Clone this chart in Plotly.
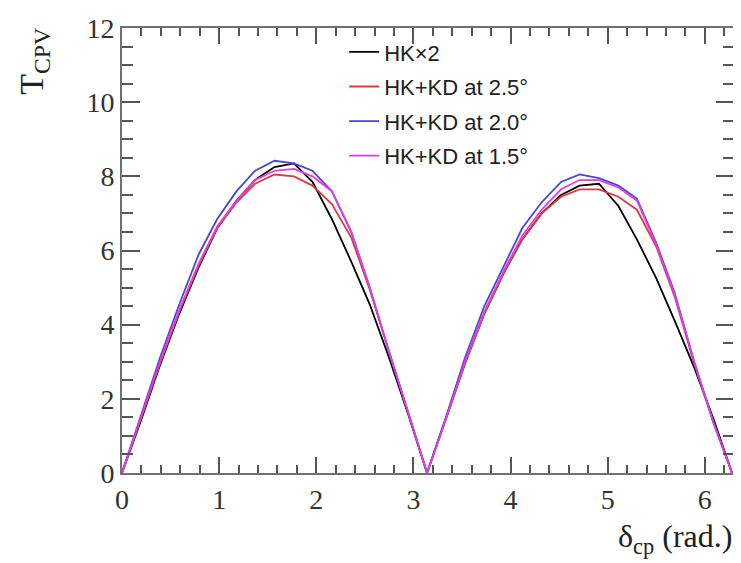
import plotly.graph_objects as go

# delta_cp grid (rad.)
delta = [0, 0.2, 0.39, 0.59, 0.79, 0.98, 1.18, 1.37, 1.57, 1.77, 1.96, 2.16, 2.36, 2.55, 2.75, 2.95, 3.14,
         3.34, 3.53, 3.73, 3.93, 4.12, 4.32, 4.52, 4.71, 4.91, 5.11, 5.30, 5.50, 5.69, 5.89, 6.09, 6.28]

# T_CPV for each configuration
hk_x2 = [0, 1.45, 2.9, 4.3, 5.55, 6.6, 7.35, 7.9, 8.25, 8.35, 7.85, 6.85, 5.7, 4.55, 3.1, 1.55, 0,
         1.5, 2.95, 4.3, 5.4, 6.3, 7.0, 7.5, 7.75, 7.8, 7.2, 6.3, 5.25, 4.1, 2.85, 1.45, 0]
kd_25 = [0, 1.5, 2.95, 4.35, 5.6, 6.6, 7.3, 7.8, 8.05, 8.0, 7.75, 7.25, 6.35, 4.95, 3.25, 1.6, 0,
         1.5, 2.95, 4.3, 5.4, 6.3, 7.0, 7.45, 7.65, 7.65, 7.45, 7.1, 6.1, 4.75, 2.95, 1.35, 0]
kd_20 = [0, 1.6, 3.1, 4.55, 5.9, 6.85, 7.6, 8.15, 8.42, 8.35, 8.15, 7.6, 6.5, 5.0, 3.25, 1.6, 0,
         1.55, 3.1, 4.5, 5.6, 6.6, 7.3, 7.85, 8.05, 7.95, 7.75, 7.4, 6.2, 4.85, 3.0, 1.35, 0]
kd_15 = [0, 1.55, 3.0, 4.4, 5.65, 6.65, 7.35, 7.9, 8.15, 8.2, 8.0, 7.6, 6.5, 5.0, 3.25, 1.6, 0,
         1.5, 3.0, 4.35, 5.45, 6.4, 7.1, 7.65, 7.9, 7.9, 7.7, 7.35, 6.15, 4.8, 3.0, 1.35, 0]

names = ['HK×2', 'HK+KD at 2.5°', 'HK+KD at 2.0°', 'HK+KD at 1.5°']
colors = ['#000000', '#e0393e', '#4747d6', '#e43ce4']

fig = go.Figure()
for i, (ys, name, color) in enumerate(zip([hk_x2, kd_25, kd_20, kd_15], names, colors)):
    fig.add_trace(go.Scatter(x=delta, y=ys, name=name, mode='lines', legendgroup=str(i),
                             line=dict(color=color, width=1.8)))

tick_font = dict(family='Liberation Serif', size=28, color='#333')
axis_common = dict(showline=True, linecolor='#707070', linewidth=2, mirror='ticks', ticks='inside',
                   tickcolor='#555', tickwidth=2, showgrid=False, zeroline=False, tickfont=tick_font,
                   ticklabeloverflow='allow')

fig.update_xaxes(range=[0, 6.3], dtick=1, ticklen=16,
                 minor=dict(dtick=0.2, ticks='inside', ticklen=8, tickcolor='#555', tickwidth=2),
                 **axis_common)
fig.update_yaxes(range=[0, 12], dtick=2, ticklen=18,
                 minor=dict(dtick=0.5, ticks='inside', ticklen=11, tickcolor='#555', tickwidth=2),
                 **axis_common)

# page body has an 8px margin, so the figure is drawn 8px smaller and shifted
fig.update_layout(
    width=733, height=555,
    margin=dict(l=114, r=5, t=12, b=90),
    plot_bgcolor='white', paper_bgcolor='white',
    legend=dict(x=0.363, y=0.993, xanchor='left', yanchor='top', bgcolor='rgba(0,0,0,0)',
                font=dict(family='Liberation Sans', size=22, color='#222'), tracegroupgap=3),
    annotations=[
        dict(text='T<sub>CPV</sub>', xref='paper', yref='paper', x=-0.143, y=0.925, textangle=-90,
             xanchor='center', yanchor='middle',
             showarrow=False, font=dict(family='Liberation Serif', size=34, color='#222')),
        dict(text='δ<sub>cp</sub> (rad.)', xref='paper', yref='paper', x=1.0, y=-0.148,
             xanchor='right', yanchor='middle', showarrow=False,
             font=dict(family='Liberation Serif', size=32, color='#222')),
    ],
)

fig.write_html("out.html")
